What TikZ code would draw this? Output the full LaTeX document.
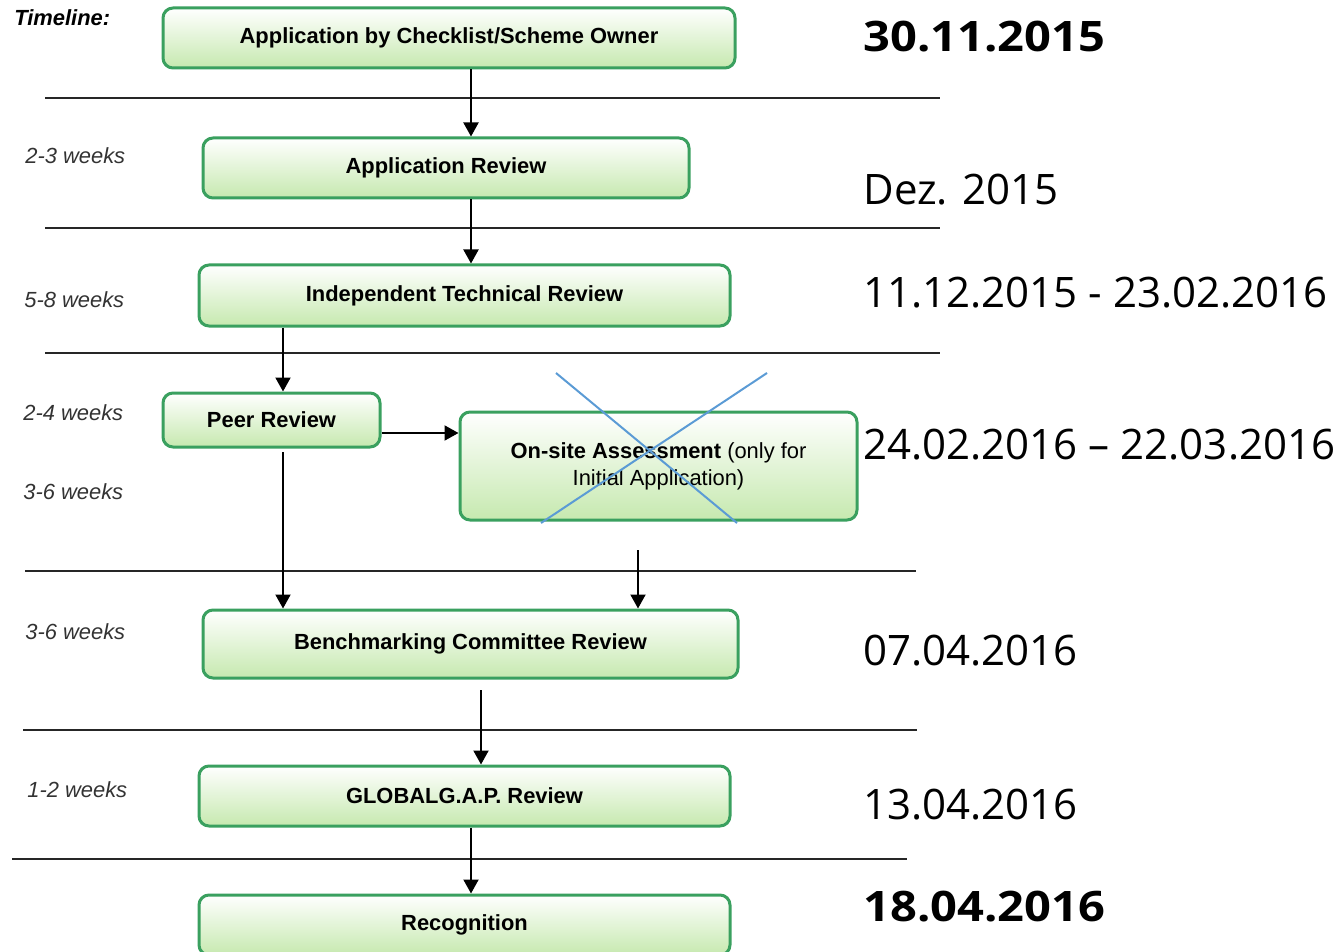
\documentclass[tikz,border=0pt,11pt]{standalone}
\usepackage{fontspec}
\setmainfont{Liberation Sans}
\newfontfamily\datefont{Open Sans}
\newfontfamily\datebffont{Open Sans}[FakeStretch=1.12]
\usetikzlibrary{arrows.meta,positioning,calc}
\definecolor{boxline}{RGB}{58,160,95}
\definecolor{boxfill}{RGB}{198,233,175}
\definecolor{crossblue}{RGB}{91,155,213}
\tikzset{
    stage/.style = {
        draw = boxline,
        line width = 1.5pt,
        rounded corners = 5pt,
        top color = white,
        bottom color = boxfill,
        font = \bfseries,
        inner sep = 0pt,
        },
    flow/.style = {
        -{Triangle[length=7pt,width=7.5pt]},
        line width = 1pt,
        },
    divider/.style = {
        draw = black!85,
        line width = 1pt,
        },
    duration/.style = {
        anchor = west,
        font = \itshape,
        text = black!80,
        inner sep = 0pt,
        },
    date/.style = {
        anchor = west,
        font = \datefont\fontsize{21}{25}\selectfont,
        inner sep = 0pt,
        },
    date bold/.style = {
        date,
        font = \datebffont\bfseries\fontsize{21}{25}\selectfont,
        },
    cross/.style = {
        draw = crossblue,
        line width = 1pt,
        },
}

\begin{document}
\begin{tikzpicture}[x=0.5pt, y=-0.5pt]
    \useasboundingbox (0,0) rectangle (1343,952);

    % columns the arrows run along
    \coordinate (colA) at (471,0);
    \coordinate (colB) at (283,0);
    \coordinate (colC) at (638,0);
    \coordinate (colD) at (481,0);

    % separators between the phases
    \draw[divider] (45,98) -- (940,98);
    \draw[divider] (45,228) -- (940,228);
    \draw[divider] (45,353) -- (940,353);
    \draw[divider] (25,571) -- (916,571);
    \draw[divider] (23,730) -- (917,730);
    \draw[divider] (12,859) -- (907,859);

    % process steps
    \node[stage, minimum width=286pt, minimum height=30pt] (app) at (449,38) {Application by Checklist/Scheme Owner};
    \node[stage, minimum width=243pt, minimum height=30pt] (rev) at (446,168) {Application Review};
    \node[stage, minimum width=265.5pt, minimum height=30.5pt] (itr) at (464.5,295.5) {Independent Technical Review};
    \node[stage, minimum width=108.5pt, minimum height=27pt] (peer) at (271.5,420) {Peer Review};
    \node[stage, minimum width=198.5pt, minimum height=54pt, align=center, font=\mdseries] (onsite) at (658.5,466)
        {\textbf{On-site Assessment} (only for\\Initial Application)};
    \node[stage, minimum width=267.5pt, minimum height=34pt] (bench) at (470.5,644) {Benchmarking Committee Review};
    \node[stage, minimum width=265.5pt, minimum height=30pt] (glob) at (464.5,796) {GLOBALG.A.P. Review};
    \node[stage, minimum width=265.5pt, minimum height=30pt] (recog) at (464.5,925) {Recognition};

    % crossed out
    \draw[cross] (556,373) -- (737,523);
    \draw[cross] (767,373) -- (541,523);

    % flow
    \coordinate (peer out) at (283,452);
    \coordinate (onsite out) at (638,550);
    \coordinate (bench out) at (481,690);
    \draw[flow] (app.south -| colA) -- (rev.north -| colA);
    \draw[flow] (rev.south -| colA) -- (itr.north -| colA);
    \draw[flow] (itr.south -| colB) -- (peer.north -| colB);
    \draw[flow] (peer.east |- 0,433) -- (onsite.west |- 0,433);
    \draw[flow] (peer out) -- (bench.north -| colB);
    \draw[flow] (onsite out) -- (bench.north -| colC);
    \draw[flow] (bench out) -- (glob.north -| colD);
    \draw[flow] (glob.south -| colA) -- (recog.north -| colA);

    % durations
    \node[duration, font=\bfseries\itshape, text=black] (tl) at (14,18) {Timeline:};
    \node[duration] (d1) at (25,156) {2-3 weeks};
    \node[duration] (d2) at (24,300) {5-8 weeks};
    \node[duration] (d3) at (23,413) {2-4 weeks};
    \node[duration] (d4) at (23,492) {3-6 weeks};
    \node[duration] (d5) at (25,632) {3-6 weeks};
    \node[duration] (d6) at (27,790) {1-2 weeks};

    % dates
    \node[date bold] (t1) at (863,37) {30.11.2015};
    \node[date] (t2) at (863,190) {Dez. 2015};
    \node[date] (t3) at (863,293) {11.12.2015 - 23.02.2016};
    \node[date] (t4) at (863,445) {24.02.2016 – 22.03.2016};
    \node[date] (t5) at (863,651) {07.04.2016};
    \node[date] (t6) at (863,805) {13.04.2016};
    \node[date bold] (t7) at (863,907) {18.04.2016};
\end{tikzpicture}
\end{document}
